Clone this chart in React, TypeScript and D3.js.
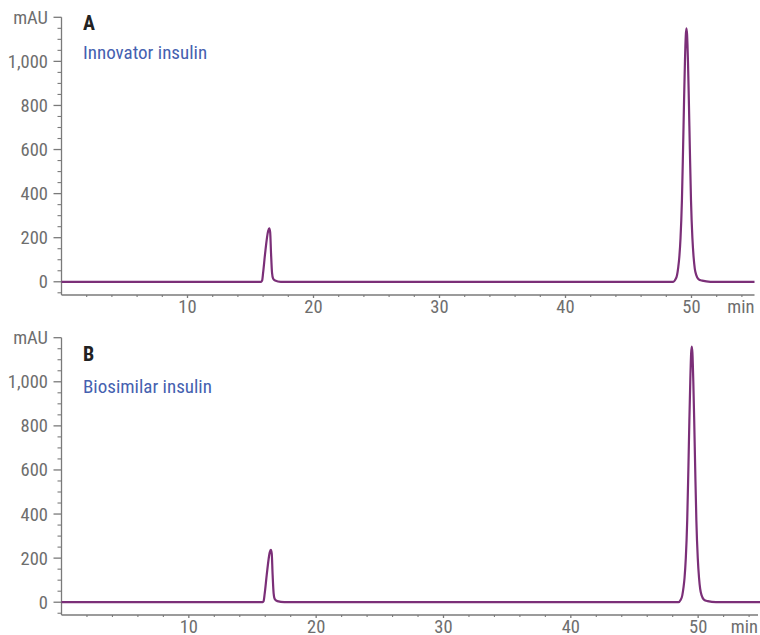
import * as d3 from 'd3';

const panelLetters = ['A', 'B'];
const sampleNames = ['Innovator insulin', 'Biosimilar insulin'];

// chromatogram points: [retention time (min), absorbance (mAU)]
const innovatorTrace: [number, number][] = [
  [0, 0], [15.85, 0], [15.92, 5], [16.0, 40], [16.16, 129], [16.4, 230], [16.49, 242],
  [16.56, 225], [16.63, 129], [16.71, 40], [16.79, 15], [16.95, 6], [17.4, 0],
  [48.55, 0], [48.72, 10], [48.85, 30], [48.95, 67], [49.03, 110], [49.13, 200],
  [49.19, 280], [49.24, 370], [49.33, 600], [49.41, 824], [49.48, 1000], [49.55, 1120],
  [49.6, 1150], [49.65, 1120], [49.72, 1000], [49.79, 824], [49.87, 600], [49.96, 370],
  [50.01, 280], [50.07, 200], [50.17, 110], [50.26, 60], [50.38, 30], [50.55, 12],
  [50.85, 5], [51.5, 0], [55, 0],
];

const biosimilarTrace: [number, number][] = [
  [0, 0], [15.8, 0], [15.87, 4], [15.96, 40], [16.12, 125], [16.35, 225], [16.44, 237],
  [16.51, 222], [16.58, 125], [16.66, 40], [16.75, 14], [16.95, 5], [17.5, 0],
  [48.45, 0], [48.62, 10], [48.75, 30], [48.85, 67], [48.93, 110], [49.03, 200],
  [49.09, 280], [49.14, 370], [49.23, 600], [49.31, 824], [49.38, 1000], [49.45, 1130],
  [49.5, 1160], [49.55, 1130], [49.62, 1000], [49.69, 824], [49.77, 600], [49.86, 370],
  [49.91, 280], [49.97, 200], [50.07, 110], [50.16, 60], [50.28, 30], [50.45, 12],
  [50.75, 5], [51.4, 0], [55, 0],
];

const traces = [innovatorTrace, biosimilarTrace];

const majorTimeTicks = [10, 20, 30, 40, 50];
const majorAbsTicks = [0, 200, 400, 600, 800, 1000];
const yUnitLabel = 'mAU';
const xUnitLabel = 'min';

const panels = [
  { xDomain: [0, 55], xRange: [61.5, 754.5], yDomain: [-60, 1200], yRange: [295, 17.3], letterY: 30, nameY: 58.5 },
  { xDomain: [0, 54.7], xRange: [61.5, 758], yDomain: [-58, 1200], yRange: [615, 337.7], letterY: 360.5, nameY: 393 },
];

const axisColor = '#7a7a7a';
const labelColor = '#6e6e6e';
const traceColor = '#7b2f78';
const font = "'Liberation Sans Narrow', 'Roboto Condensed', Roboto, sans-serif";

function Panel({ index }: { index: number }) {
  const p = panels[index];
  const x = d3.scaleLinear().domain(p.xDomain).range(p.xRange);
  const y = d3.scaleLinear().domain(p.yDomain).range(p.yRange);
  const fmt = d3.format(',');
  const x0 = p.xRange[0];
  const yBottom = p.yRange[0];
  const yTop = y(1200);

  const line = d3.line<[number, number]>()
    .x(d => x(d[0]))
    .y(d => y(d[1]))
    .curve(d3.curveMonotoneX);

  const minorY = d3.range(-50, 1201, 50).filter(v => v % 200 !== 0);
  const minorX = d3.range(2, p.xDomain[1], 2).filter(v => v % 10 !== 0);

  return (
    <g>
      {/* y axis */}
      <line x1={x0} x2={x0} y1={yTop} y2={yBottom} stroke={axisColor} strokeWidth={1.3} />
      {majorAbsTicks.map(v => (
        <g key={'ym' + v}>
          <line x1={x0 - 8} x2={x0} y1={y(v)} y2={y(v)} stroke={axisColor} strokeWidth={1.3} />
          <text x={48} y={y(v) + 6.5} textAnchor="end" fontSize={18.5} fill={labelColor} fontFamily={font}>{fmt(v)}</text>
        </g>
      ))}
      <line x1={x0 - 8} x2={x0} y1={yTop} y2={yTop} stroke={axisColor} strokeWidth={1.3} />
      <text x={48} y={yTop + 6.5} textAnchor="end" fontSize={18.5} fill={labelColor} fontFamily={font}>{yUnitLabel}</text>
      {minorY.map(v => (
        <line key={'yn' + v} x1={x0 - 4} x2={x0} y1={y(v)} y2={y(v)} stroke={axisColor} strokeWidth={1.1} />
      ))}

      {/* x axis */}
      <line x1={x0} x2={p.xRange[1]} y1={yBottom} y2={yBottom} stroke={axisColor} strokeWidth={1.3} />
      {majorTimeTicks.map(t => (
        <g key={'xm' + t}>
          <line x1={x(t)} x2={x(t)} y1={yBottom} y2={yBottom + 3} stroke={axisColor} strokeWidth={1.3} />
          <text x={x(t)} y={yBottom + 18} textAnchor="middle" fontSize={18.5} fill={labelColor} fontFamily={font}>{t}</text>
        </g>
      ))}
      {minorX.map(t => (
        <line key={'xn' + t} x1={x(t)} x2={x(t)} y1={yBottom} y2={yBottom + 2} stroke={axisColor} strokeWidth={1.1} />
      ))}
      <text x={p.xRange[1]} y={yBottom + 18} textAnchor="end" fontSize={18.5} fill={labelColor} fontFamily={font}>{xUnitLabel}</text>

      {/* trace */}
      <path d={line(traces[index]) || undefined} fill="none" stroke={traceColor} strokeWidth={2.2} strokeLinejoin="round" />

      {/* labels */}
      <text x={83} y={p.letterY} fontSize={20} fontWeight="bold" fill="#222" fontFamily={font}>{panelLetters[index]}</text>
      <text x={83} y={p.nameY} fontSize={19} fill="#4561b0" fontFamily={font}>{sampleNames[index]}</text>
    </g>
  );
}

export default function App() {
  return (
    <svg width={760} height={635} style={{ position: 'absolute', left: 0, top: 0, background: '#fff' }}>
      <Panel index={0} />
      <Panel index={1} />
    </svg>
  );
}
